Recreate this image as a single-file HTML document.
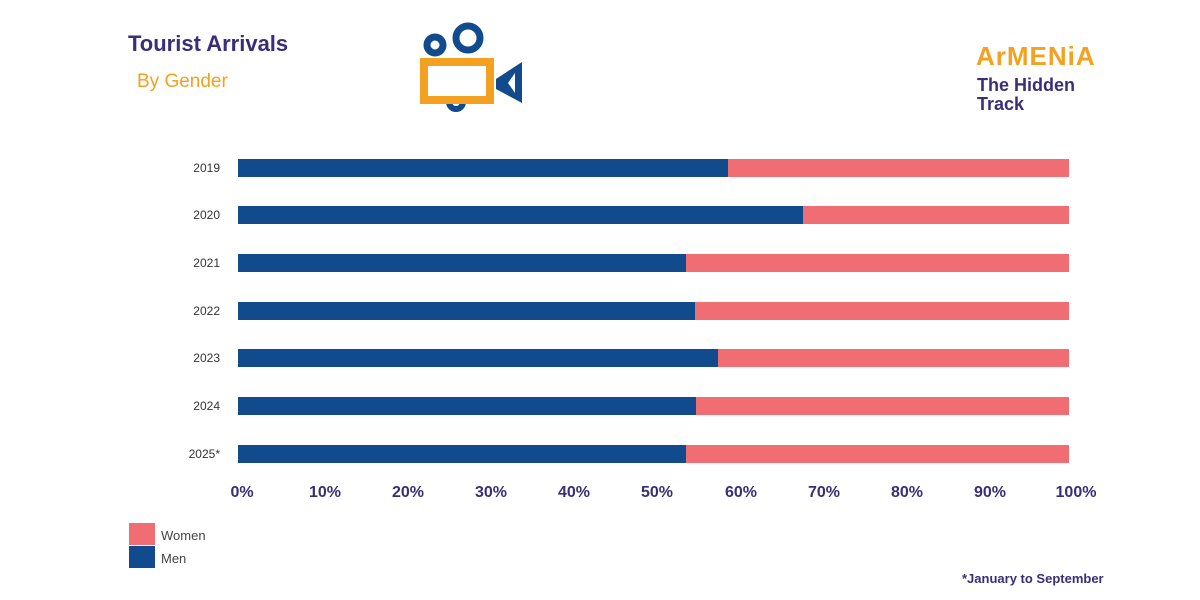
<!DOCTYPE html>
<html><head><meta charset="utf-8"><style>
body{margin:0;width:1200px;height:600px;background:#fff;position:relative;overflow:hidden;font-family:"Liberation Sans",sans-serif}
.a{position:absolute}
.yl{position:absolute;left:170px;width:50px;text-align:right;font-size:12px;color:#333}
.bar{position:absolute;left:238px;width:831px;height:18px;background:#f06d73}
.bar div{height:100%;background:#124a8e}
.tk{position:absolute;top:484px;font-size:16px;font-weight:bold;color:#3b2d78;width:60px;text-align:center}
</style></head><body>
<div class="a" style="left:128px;top:31px;font-size:22px;font-weight:bold;color:#3b2d78">Tourist Arrivals</div>
<div class="a" style="left:137px;top:71px;font-size:19px;color:#f4a020">By Gender</div>
<svg class="a" style="left:415px;top:15px" width="115" height="105">
<circle cx="20" cy="30" r="8" fill="none" stroke="#124a8e" stroke-width="7"/>
<circle cx="53" cy="23" r="12" fill="none" stroke="#124a8e" stroke-width="7"/>
<circle cx="41" cy="87" r="7" fill="none" stroke="#124a8e" stroke-width="6"/>
<rect x="9" y="47" width="66" height="38" fill="#fff" stroke="#f4a020" stroke-width="8"/>
<polygon points="81,64 107,47 107,88 81,74" fill="#124a8e"/>
<polygon points="93,68 100,58 100,78" fill="#fff"/>
</svg>
<div class="a" style="left:976px;top:41px;font-size:26px;font-weight:bold;color:#f4a020;letter-spacing:1px">ArMENiA</div>
<div class="a" style="left:977px;top:76px;font-size:18px;font-weight:bold;color:#3b2d78;line-height:19px">The Hidden<br>Track</div>
<div class="yl" style="top:161px">2019</div><div class="bar" style="top:159px"><div style="width:490px"></div></div>
<div class="yl" style="top:208px">2020</div><div class="bar" style="top:206px"><div style="width:565px"></div></div>
<div class="yl" style="top:256px">2021</div><div class="bar" style="top:254px"><div style="width:448px"></div></div>
<div class="yl" style="top:304px">2022</div><div class="bar" style="top:302px"><div style="width:457px"></div></div>
<div class="yl" style="top:351px">2023</div><div class="bar" style="top:349px"><div style="width:480px"></div></div>
<div class="yl" style="top:399px">2024</div><div class="bar" style="top:397px"><div style="width:458px"></div></div>
<div class="yl" style="top:447px">2025*</div><div class="bar" style="top:445px"><div style="width:448px"></div></div>
<div class="tk" style="left:212px">0%</div><div class="tk" style="left:295px">10%</div><div class="tk" style="left:378px">20%</div><div class="tk" style="left:461px">30%</div><div class="tk" style="left:544px">40%</div><div class="tk" style="left:627px">50%</div><div class="tk" style="left:711px">60%</div><div class="tk" style="left:794px">70%</div><div class="tk" style="left:877px">80%</div><div class="tk" style="left:960px">90%</div><div class="tk" style="left:1046px">100%</div>
<div class="a" style="left:129px;top:523px;width:26px;height:22px;background:#f06d73"></div>
<div class="a" style="left:129px;top:546px;width:26px;height:22px;background:#124a8e"></div>
<div class="a" style="left:161px;top:528px;font-size:13px;color:#444">Women</div>
<div class="a" style="left:161px;top:551px;font-size:13px;color:#444">Men</div>
<div class="a" style="left:962px;top:571px;font-size:13px;font-weight:bold;color:#3b2d78">*January to September</div>
</body></html>
